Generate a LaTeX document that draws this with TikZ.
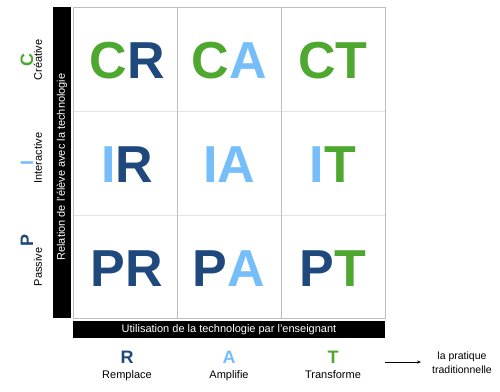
\documentclass[tikz,border=0pt]{standalone}
\usepackage{fontspec}
\setmainfont{Liberation Sans}
\usepackage{tikz}
\usetikzlibrary{arrows.meta, positioning}
\usepackage{xcolor}
\definecolor{ratdark}{RGB}{31,73,125}
\definecolor{ratlight}{RGB}{117,190,250}
\definecolor{ratgreen}{RGB}{78,168,48}
\definecolor{gridgray}{RGB}{190,190,190}
\definecolor{gridlight}{RGB}{228,228,228}

\tikzset{
  cellcode/.style={font=\fontsize{52}{52}\selectfont\bfseries, inner sep=0pt},
  axisletter/.style={font=\fontsize{18}{18}\selectfont\bfseries, inner sep=0pt},
  axisword/.style={font=\fontsize{11}{13}\selectfont, inner sep=0pt},
  barlabel/.style={font=\fontsize{11}{13}\selectfont, text=white, inner sep=0pt}
}

\begin{document}
\begin{tikzpicture}[x=1pt, y=-1pt]
\useasboundingbox (0,0) rectangle (500,391);
% black bars
\fill[black] (53,7) rectangle (71,318);
\fill[black] (73,321) rectangle (385,338);
\node[barlabel, rotate=90] (relation) at (62,167) {Relation de l'élève avec la technologie};
\node[barlabel] (utilisation) at (229,330) {Utilisation de la technologie par l'enseignant};
% grid
\draw[gridlight, thin] (73,111) -- (385,111);
\draw[gridlight, thin] (73,215) -- (385,215);
\draw[gridgray, thin] (177,7) -- (177,318);
\draw[gridgray, thin] (281,7) -- (281,318);
\draw[gridgray, thin] (73,7) rectangle (385,318);
% cells
\node[cellcode] (cr) at (127,61) {\textcolor{ratgreen}{C}\textcolor{ratdark}{R}};
\node[cellcode] (ca) at (229,61) {\textcolor{ratgreen}{C}\textcolor{ratlight}{A}};
\node[cellcode] (ct) at (333,61) {\textcolor{ratgreen}{CT}};
\node[cellcode] (ir) at (127,165) {\textcolor{ratlight}{I}\textcolor{ratdark}{R}};
\node[cellcode] (ia) at (229,165) {\textcolor{ratlight}{IA}};
\node[cellcode] (it) at (333,165) {\textcolor{ratlight}{I}\textcolor{ratgreen}{T}};
\node[cellcode] (pr) at (127,269) {\textcolor{ratdark}{PR}};
\node[cellcode] (pa) at (229,269) {\textcolor{ratdark}{P}\textcolor{ratlight}{A}};
\node[cellcode] (pt) at (333,269) {\textcolor{ratdark}{P}\textcolor{ratgreen}{T}};
% left axis
\node[axisletter, ratgreen, rotate=90] (c) at (27,60) {C};
\node[axisword, rotate=90] (creative) at (38,60) {Créative};
\node[axisletter, ratlight, rotate=90] (i) at (27,163) {I};
\node[axisword, rotate=90] (interactive) at (38,158) {Interactive};
\node[axisletter, ratdark, rotate=90] (p) at (27,240) {P};
\node[axisword, rotate=90] (passive) at (38,267) {Passive};
% bottom axis
\node[axisletter, ratdark] (r) at (127,357) {R};
\node[axisword, below=7pt of r] (remplace) {Remplace};
\node[axisletter, ratlight] (a) at (229,357) {A};
\node[axisword, below=7pt of a] (amplifie) {Amplifie};
\node[axisletter, ratgreen] (t) at (333,357) {T};
\node[axisword, below=7pt of t] (transforme) {Transforme};
\node[font=\fontsize{10.5}{14}\selectfont, align=center, inner sep=0pt] (pratique) at (462,363) {la pratique\\traditionnelle};
\coordinate (flecheA) at (385,362);
\draw[-{Stealth[length=4pt]}, semithick] (flecheA) -- (flecheA -| pratique.west) [shorten >=11pt];
\end{tikzpicture}
\end{document}
